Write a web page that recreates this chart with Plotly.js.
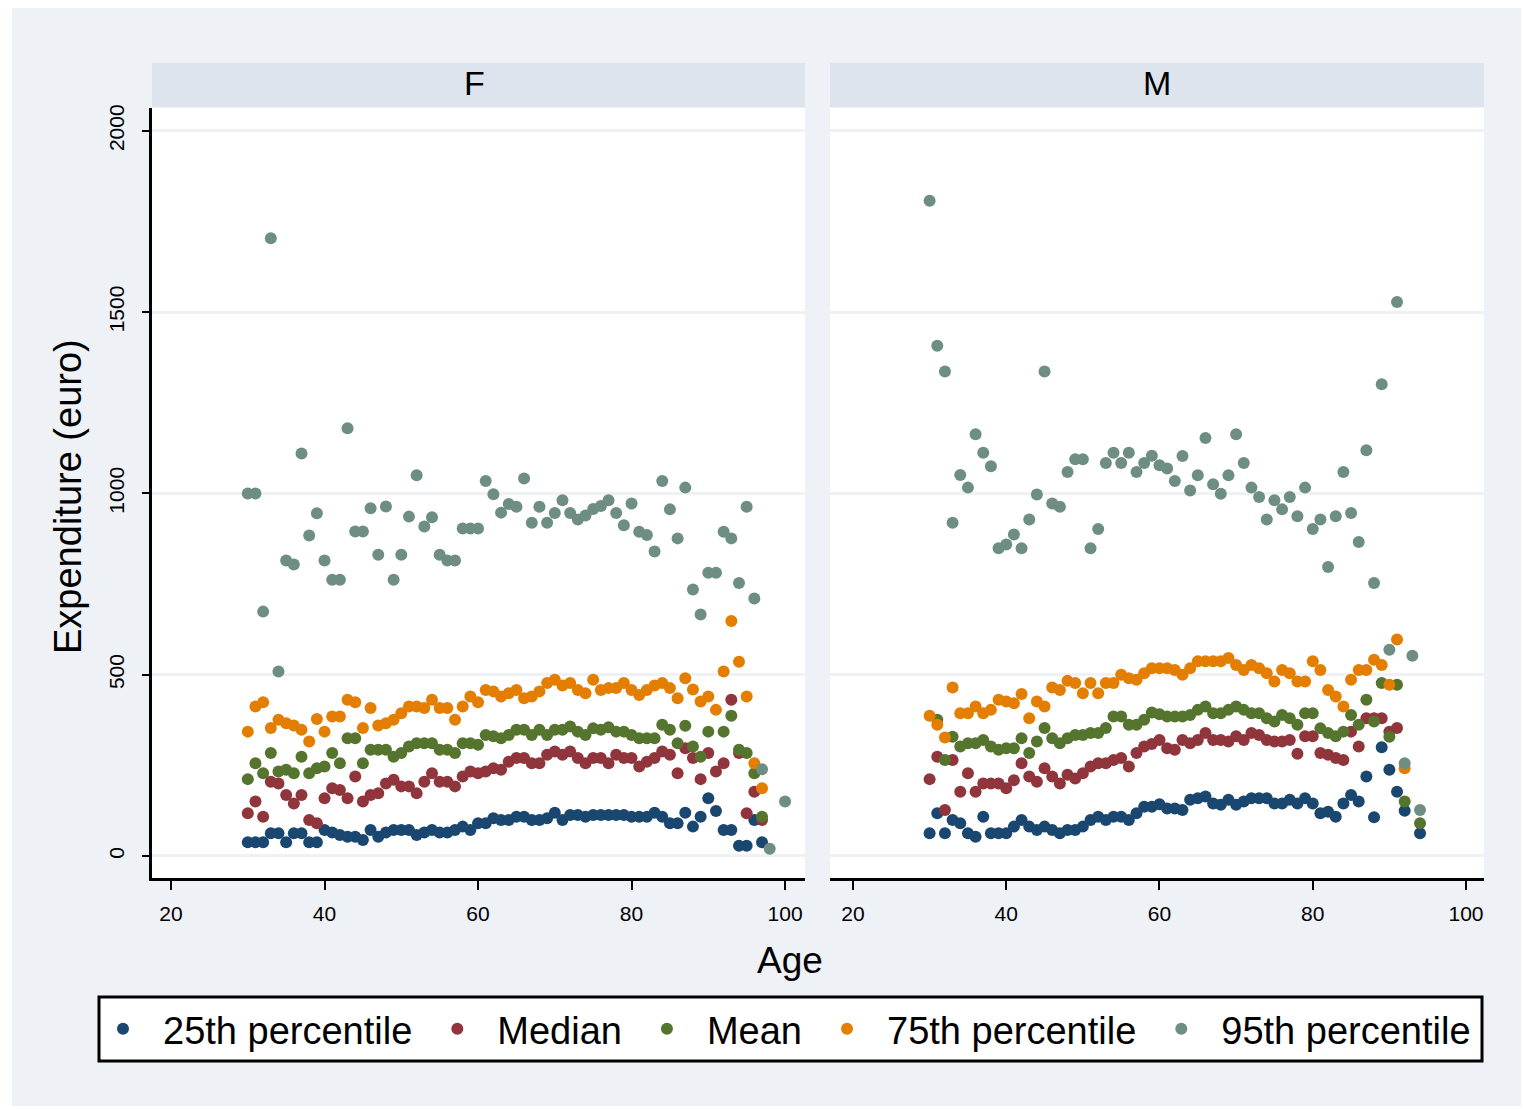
<!DOCTYPE html>
<html>
<head>
<meta charset="utf-8">
<script src="https://cdn.plot.ly/plotly-3.0.1.min.js"></script>
<style>
  html, body { margin: 0; padding: 0; background: #ffffff; }
  #chart { width: 1523px; height: 1109px; }
</style>
</head>
<body>
<div id="chart"></div>
<script>
// ---------------- DATA ----------------
const panels = ["F", "M"];
const seriesNames = ["25th percentile", "Median", "Mean", "75th percentile", "95th percentile"];

const agesF = [30,31,32,33,34,35,36,37,38,39,40,41,42,43,44,45,46,47,48,49,
               50,51,52,53,54,55,56,57,58,59,60,61,62,63,64,65,66,67,68,69,
               70,71,72,73,74,75,76,77,78,79,80,81,82,83,84,85,86,87,88,89,
               90,91,92,93,94,95,96,97,98,99,100];

const f_p25 = [38,38,38,63,63,38,63,63,38,38,
               72,65,58,53,53,44,72,53,65,72,
               72,72,58,65,72,65,65,72,81,72,
               90,90,104,99,99,108,108,99,99,104,
               119,99,113,113,108,113,113,113,113,113,
               108,108,108,119,108,90,90,119,81,108,
               159,124,72,72,28,28,99,38,null,null,
               null];
const f_median = [118,150,108,205,200,168,145,168,99,90,
               159,187,182,159,219,150,168,173,200,210,
               192,192,173,205,228,205,205,192,219,233,
               228,233,242,238,260,270,270,256,256,279,
               288,279,288,270,256,270,270,256,279,270,
               270,247,260,270,288,279,228,297,270,212,
               284,233,256,431,284,118,177,99,null,null,
               null];
const f_mean = [212,256,228,284,233,238,228,274,228,242,
               247,284,256,325,325,256,293,293,293,274,
               284,302,311,311,311,293,293,284,311,311,
               307,334,330,325,334,348,348,334,348,334,
               348,348,357,343,334,352,348,355,343,343,
               334,325,325,325,362,348,311,359,302,274,
               343,null,343,387,293,284,228,108,null,null,
               null];
const f_p75 = [343,412,424,353,376,366,360,348,316,378,
               343,385,385,431,424,353,408,360,366,376,
               394,412,412,408,431,408,408,376,412,440,
               424,458,454,440,449,458,435,440,454,477,
               486,470,477,458,449,486,458,463,463,477,
               458,444,458,470,477,463,435,490,459,426,
               440,403,509,648,536,440,256,187,null,null,
               null];
const f_p95 = [1000,1000,674,1704,509,815,804,1110,884,945,
               815,762,762,1180,895,895,959,831,964,762,
               831,936,1050,909,934,831,815,815,903,903,
               903,1034,998,947,971,963,1041,919,963,919,
               946,981,946,928,939,957,965,981,946,912,
               972,894,885,840,1034,956,876,1016,735,666,
               781,781,894,876,753,963,710,239,20,null,
               150];

const agesM = [30,31,32,33,34,35,36,37,38,39,40,41,42,43,44,45,46,47,48,49,
               50,51,52,53,54,55,56,57,58,59,60,61,62,63,64,65,66,67,68,69,
               70,71,72,73,74,75,76,77,78,79,80,81,82,83,84,85,86,87,88,89,
               90,91,92,93,94];

const m_p25 = [63,118,63,99,90,63,53,108,63,63,
               63,81,99,81,72,81,72,63,72,72,
               81,99,108,99,108,108,99,118,136,136,
               143,131,131,127,155,159,164,145,141,155,
               141,150,159,159,159,145,145,155,145,159,
               145,118,122,108,145,168,150,219,107,300,
               238,177,125,null,63];
const m_median = [212,274,127,265,177,228,177,200,200,200,
               187,209,256,219,205,242,219,200,224,214,
               228,247,256,256,265,270,247,284,302,309,
               320,297,293,320,311,320,339,320,320,316,
               330,320,339,334,320,316,316,320,282,330,
               330,284,279,270,265,343,302,380,380,380,
               343,353,null,null,null];
const m_mean = [null,376,265,329,302,311,311,320,302,293,
               297,297,325,284,316,353,325,311,325,334,
               334,339,339,353,385,385,362,362,376,396,
               391,385,385,385,389,403,412,394,394,403,
               412,403,394,394,380,371,389,380,362,394,
               394,352,339,330,343,389,362,431,371,477,
               329,472,150,null,90];
const m_p75 = [387,362,327,465,394,394,412,394,403,431,
               426,421,447,380,426,412,465,458,483,477,
               449,477,449,477,477,500,490,486,504,518,
               518,518,513,500,518,537,537,537,537,546,
               527,513,527,518,504,481,513,504,481,481,
               537,513,458,440,412,486,513,513,541,527,
               472,597,242,null,null];
const m_p95 = [1807,1407,1336,919,1051,1016,1163,1112,1075,849,
               859,887,849,928,997,1336,972,963,1059,1094,
               1094,849,902,1084,1112,1084,1112,1059,1084,1104,
               1078,1069,1034,1103,1008,1050,1153,1025,999,1050,
               1163,1084,1016,990,928,981,956,990,937,1016,
               902,928,797,937,1059,946,866,1119,753,1301,
               569,1528,256,552,127];

const xTicks = [20, 40, 60, 80, 100];
const yTicks = [0, 500, 1000, 1500, 2000];
const xTitle = "Age";
const yTitle = "Expenditure (euro)";

// ---------------- STYLE ----------------
const W = 1523, H = 1109;
const X = px => px / W;
const Y = py => 1 - py / H;
const FONT = "Liberation Sans, Arial, Helvetica, sans-serif";
const colors = ["#1a476f", "#90353b", "#55752f", "#e37e00", "#6e8e84"];
const BG = "#eef1f6";
const STRIP = "#dde4ee";

const fSeries = [f_p25, f_median, f_mean, f_p75, f_p95];
const mSeries = [m_p25, m_median, m_mean, m_p75, m_p95];

const traces = [];
seriesNames.forEach((name, i) => {
  traces.push({
    type: "scatter", mode: "markers", name: name,
    x: agesF, y: fSeries[i], xaxis: "x", yaxis: "y",
    marker: { color: colors[i], size: 12, symbol: "circle", line: { width: 0 } },
    legendgroup: name, showlegend: true, cliponaxis: false,
    hoverinfo: "x+y+name"
  });
});
seriesNames.forEach((name, i) => {
  traces.push({
    type: "scatter", mode: "markers", name: name,
    x: agesM, y: mSeries[i], xaxis: "x2", yaxis: "y2",
    marker: { color: colors[i], size: 12, symbol: "circle", line: { width: 0 } },
    legendgroup: name, showlegend: false, cliponaxis: false,
    hoverinfo: "x+y+name"
  });
});

const yDomain = [Y(878), Y(108)];
const yRange = [-60.7, 2063];

const xCommon = {
  tickvals: xTicks, ticktext: xTicks.map(String),
  ticks: "outside", ticklen: 9, tickwidth: 2, tickcolor: "#000",
  showline: true, linecolor: "#000", linewidth: 3,
  showgrid: false, zeroline: false,
  tickfont: { family: FONT, size: 21, color: "#000" },
  ticklabelstandoff: 6, fixedrange: true
};

const layout = {
  width: W, height: H,
  margin: { l: 0, r: 0, t: 0, b: 0, pad: 0 },
  paper_bgcolor: BG,
  plot_bgcolor: "#ffffff",
  font: { family: FONT, color: "#000" },
  showlegend: true,
  xaxis: Object.assign({}, xCommon, {
    domain: [X(152), X(805)], range: [17.52, 102.6], anchor: "y"
  }),
  xaxis2: Object.assign({}, xCommon, {
    domain: [X(830), X(1484)], range: [17.0, 102.35], anchor: "y2"
  }),
  yaxis: {
    domain: yDomain, range: yRange, anchor: "x",
    tickvals: yTicks, ticktext: yTicks.map(String),
    tickangle: -90,
    ticks: "outside", ticklen: 7, tickwidth: 2, tickcolor: "#000",
    showline: true, linecolor: "#000", linewidth: 3,
    showgrid: true, gridcolor: BG, gridwidth: 3, zeroline: false,
    tickfont: { family: FONT, size: 21, color: "#000" },
    ticklabelstandoff: 10, fixedrange: true
  },
  yaxis2: {
    domain: yDomain, range: yRange, anchor: "x2",
    tickvals: yTicks, showticklabels: false, ticks: "",
    showline: false, showgrid: true, gridcolor: BG, gridwidth: 3, zeroline: false,
    fixedrange: true
  },
  legend: {
    orientation: "h",
    x: X(83), xanchor: "left",
    y: Y(1029), yanchor: "middle",
    bgcolor: "rgba(0,0,0,0)", borderwidth: 0,
    font: { family: FONT, size: 38, color: "#000" },
    itemwidth: 70, traceorder: "normal"
  },
  shapes: [
    // white outer border
    { type: "rect", xref: "paper", yref: "paper", x0: 0, x1: X(12), y0: 0, y1: 1, fillcolor: "#fff", line: { width: 0 }, layer: "below" },
    { type: "rect", xref: "paper", yref: "paper", x0: 0, x1: 1, y0: Y(8), y1: 1, fillcolor: "#fff", line: { width: 0 }, layer: "below" },
    { type: "rect", xref: "paper", yref: "paper", x0: X(1521), x1: 1, y0: 0, y1: 1, fillcolor: "#fff", line: { width: 0 }, layer: "below" },
    { type: "rect", xref: "paper", yref: "paper", x0: 0, x1: 1, y0: 0, y1: Y(1106), fillcolor: "#fff", line: { width: 0 }, layer: "below" },
    // strips
    { type: "rect", xref: "paper", yref: "paper", x0: X(152), x1: X(805), y0: Y(107), y1: Y(63), fillcolor: STRIP, line: { width: 0 }, layer: "below" },
    { type: "rect", xref: "paper", yref: "paper", x0: X(830), x1: X(1484), y0: Y(107), y1: Y(63), fillcolor: STRIP, line: { width: 0 }, layer: "below" },
    // legend box
    { type: "rect", xref: "paper", yref: "paper", x0: X(99), x1: X(1482), y0: Y(1061), y1: Y(997), fillcolor: "#fff", line: { width: 3, color: "#000" }, layer: "below" }
  ],
  annotations: [
    { text: panels[0], xref: "paper", yref: "paper", x: X(474), y: Y(83), xanchor: "center", yanchor: "middle", showarrow: false, font: { family: FONT, size: 34, color: "#000" } },
    { text: panels[1], xref: "paper", yref: "paper", x: X(1157), y: Y(83), xanchor: "center", yanchor: "middle", showarrow: false, font: { family: FONT, size: 34, color: "#000" } },
    { text: xTitle, xref: "paper", yref: "paper", x: X(790), y: Y(960), xanchor: "center", yanchor: "middle", showarrow: false, font: { family: FONT, size: 37, color: "#000" } },
    { text: yTitle, xref: "paper", yref: "paper", x: X(68), y: Y(497), xanchor: "center", yanchor: "middle", textangle: -90, showarrow: false, font: { family: FONT, size: 38, color: "#000" } }
  ]
};

Plotly.newPlot("chart", traces, layout, { displayModeBar: false, staticPlot: true });
</script>
</body>
</html>
